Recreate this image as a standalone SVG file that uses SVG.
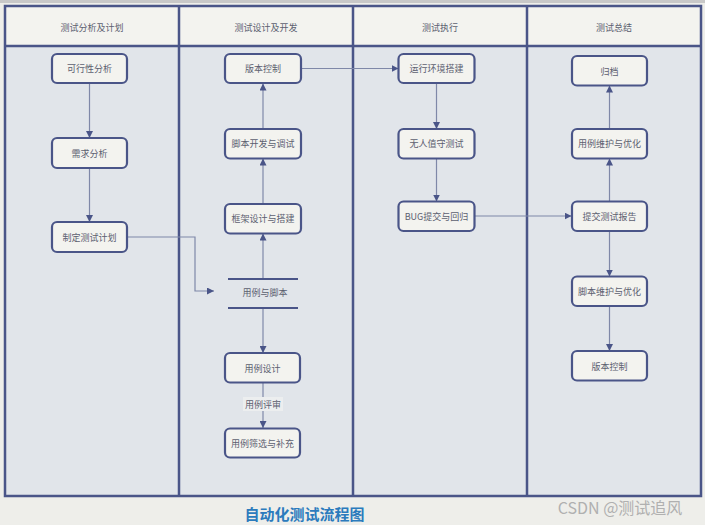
<svg xmlns="http://www.w3.org/2000/svg" width="705" height="525" viewBox="0 0 705 525">
<defs>
<marker id="ah" viewBox="0 0 10 10" refX="10" refY="5" markerWidth="7" markerHeight="7" markerUnits="userSpaceOnUse" orient="auto">
<path d="M0,0 L10,5 L0,10 z" fill="#4a5588"/>
</marker>
<style>
text{font-family:"Noto Sans CJK SC","Liberation Sans",sans-serif;}
.frame{fill:none;stroke:#4a5588;stroke-width:2.5;}
.lane{fill:#e1e5ea;}
.hdr{fill:#f3f3ef;}
.node rect{fill:#f3f3ef;stroke:#4a5588;stroke-width:2.2;}
.t{font-size:9px;fill:#5c6070;text-anchor:middle;dominant-baseline:central;}
.c{fill:none;stroke:#7f88a8;stroke-width:1.2;marker-end:url(#ah);}
.bar{stroke:#4a5588;stroke-width:2.2;}
</style>
</defs>
<rect x="0" y="0" width="705" height="525" fill="#eeeeea"/>
<rect x="0" y="0" width="705" height="3" fill="#c8c8c8"/>
<g id="lanes">
<rect class="lane" x="5" y="6" width="696" height="490"/>
<rect class="hdr" x="5" y="6" width="696" height="40"/>
<rect class="frame" x="5" y="6" width="696" height="490"/>
<line class="frame" x1="5" y1="46" x2="701" y2="46"/>
<line class="frame" x1="179" y1="6" x2="179" y2="496"/>
<line class="frame" x1="353" y1="6" x2="353" y2="496"/>
<line class="frame" x1="527" y1="6" x2="527" y2="496"/>
<text class="t" x="92" y="27">测试分析及计划</text>
<text class="t" x="266" y="27">测试设计及开发</text>
<text class="t" x="440" y="27">测试执行</text>
<text class="t" x="614" y="27">测试总结</text>
</g>
<g id="connectors">
<line class="c" x1="89.5" y1="83" x2="89.5" y2="138"/>
<line class="c" x1="89.5" y1="168" x2="89.5" y2="222"/>
<polyline class="c" points="127,237 195,237 195,291 214,291"/>
<line class="c" x1="263" y1="279" x2="263" y2="233.5"/>
<line class="c" x1="263" y1="204" x2="263" y2="158.5"/>
<line class="c" x1="263" y1="129" x2="263" y2="83.5"/>
<line class="c" x1="263" y1="308" x2="263" y2="353"/>
<line class="c" x1="263" y1="382.5" x2="263" y2="428"/>
<line class="c" x1="301" y1="68.5" x2="398.5" y2="68.5"/>
<line class="c" x1="436.5" y1="83" x2="436.5" y2="129"/>
<line class="c" x1="436.5" y1="158.5" x2="436.5" y2="201.5"/>
<line class="c" x1="474.5" y1="216" x2="571.5" y2="216"/>
<line class="c" x1="609.5" y1="201.5" x2="609.5" y2="158.5"/>
<line class="c" x1="609.5" y1="129" x2="609.5" y2="85.5"/>
<line class="c" x1="609.5" y1="231" x2="609.5" y2="276.5"/>
<line class="c" x1="609.5" y1="306" x2="609.5" y2="351"/>
<rect x="243" y="397" width="40" height="14" fill="#eceeef"/>
<text class="t" x="263" y="404">用例评审</text>
</g>
<g id="n1" class="node"><rect x="52" y="54" width="75" height="29" rx="5"/><text class="t" x="89.5" y="68.5">可行性分析</text></g>
<g id="n2" class="node"><rect x="52" y="138" width="75" height="30" rx="5"/><text class="t" x="89.5" y="153">需求分析</text></g>
<g id="n3" class="node"><rect x="52" y="222" width="75" height="30" rx="5"/><text class="t" x="89.5" y="237">制定测试计划</text></g>
<g id="n4" class="node"><rect x="225" y="54" width="76" height="29" rx="5"/><text class="t" x="263" y="68.5">版本控制</text></g>
<g id="n5" class="node"><rect x="225" y="129" width="76" height="29.5" rx="5"/><text class="t" x="263" y="143.7">脚本开发与调试</text></g>
<g id="n6" class="node"><rect x="225" y="204" width="76" height="29.5" rx="5"/><text class="t" x="263" y="218.7">框架设计与搭建</text></g>
<g id="n7"><line class="bar" x1="228" y1="279" x2="298" y2="279"/><line class="bar" x1="228" y1="308" x2="298" y2="308"/><text class="t" x="265" y="292.5">用例与脚本</text></g>
<g id="n8" class="node"><rect x="225" y="353" width="75" height="29.5" rx="5"/><text class="t" x="262.5" y="368">用例设计</text></g>
<g id="n9" class="node"><rect x="225" y="428.5" width="75" height="29" rx="5"/><text class="t" x="262.5" y="443">用例筛选与补充</text></g>
<g id="n10" class="node"><rect x="398.5" y="54" width="76" height="29" rx="5"/><text class="t" x="436.5" y="68.5">运行环境搭建</text></g>
<g id="n11" class="node"><rect x="398.5" y="129" width="76" height="29.5" rx="5"/><text class="t" x="436.5" y="143.7">无人值守测试</text></g>
<g id="n12" class="node"><rect x="398.5" y="201.5" width="76" height="29.5" rx="5"/><text class="t" x="436.5" y="216">BUG提交与回归</text></g>
<g id="n13" class="node"><rect x="572" y="56" width="75" height="29.5" rx="5"/><text class="t" x="609.5" y="71">归档</text></g>
<g id="n14" class="node"><rect x="572" y="129" width="75" height="29.5" rx="5"/><text class="t" x="609.5" y="143.7">用例维护与优化</text></g>
<g id="n15" class="node"><rect x="572" y="201.5" width="75" height="29.5" rx="5"/><text class="t" x="609.5" y="216">提交测试报告</text></g>
<g id="n16" class="node"><rect x="572" y="276.5" width="75" height="29.5" rx="5"/><text class="t" x="609.5" y="291">脚本维护与优化</text></g>
<g id="n17" class="node"><rect x="572" y="351" width="75" height="29.5" rx="5"/><text class="t" x="609.5" y="366">版本控制</text></g>
<text x="304.5" y="520" font-size="15" font-weight="bold" fill="#2b7bbd" text-anchor="middle">自动化测试流程图</text>
<text x="620" y="514" font-size="16" fill="#b0b0b0" text-anchor="middle">CSDN @测试追风</text>
</svg>
